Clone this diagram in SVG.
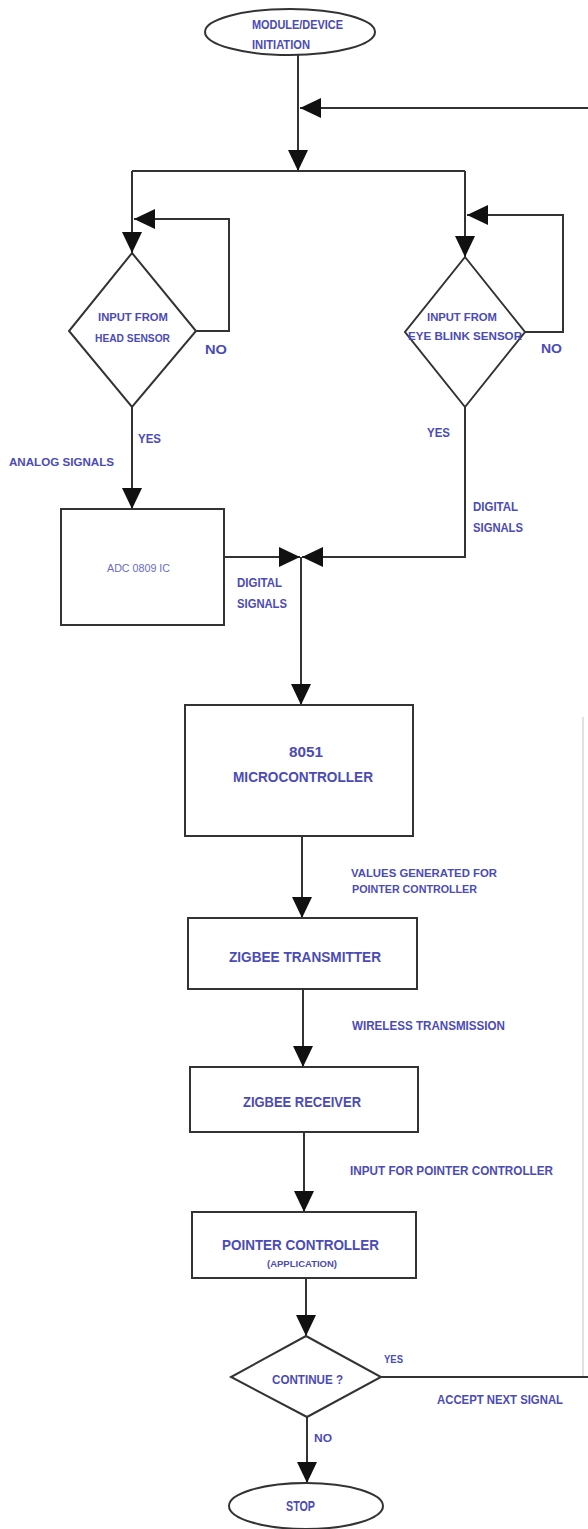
<svg xmlns="http://www.w3.org/2000/svg" width="588" height="1529" viewBox="0 0 588 1529">
<style>
.shape{fill:#fff;stroke:#333;stroke-width:2}
.ln{fill:none;stroke:#333;stroke-width:2}
.faint{fill:none;stroke:#d8d8d8;stroke-width:1.5}
text{font-family:"Liberation Sans Narrow","Liberation Sans",Arial,sans-serif;font-weight:bold;fill:#4b4bb6}
.s10{font-size:10px}.s11{font-size:11px}.s12{font-size:12px}.s13{font-size:13px}.s14{font-size:14px}.s15{font-size:15px}.s9{font-size:9px}
.light{fill:#6a6ac0;font-weight:normal}
</style>
<defs>
<marker id="ah" markerUnits="userSpaceOnUse" markerWidth="21" markerHeight="20" refX="21" refY="10" orient="auto">
<path d="M0,0 L21,10 L0,20 z" fill="#111"/>
</marker>
</defs>
<rect width="588" height="1529" fill="#fff"/>

<g id="connectors">
<line class="ln" x1="298" y1="55" x2="298" y2="171" marker-end="url(#ah)"/>
<line class="ln" x1="590" y1="108" x2="300" y2="108" marker-end="url(#ah)"/>
<polyline class="ln" points="132,171 465,171"/>
<line class="ln" x1="132" y1="171" x2="132" y2="253" marker-end="url(#ah)"/>
<polyline class="ln" points="196,331 229,331 229,219 134,219" marker-end="url(#ah)"/>
<line class="ln" x1="465" y1="171" x2="465" y2="257" marker-end="url(#ah)"/>
<polyline class="ln" points="525,332 563,332 563,215 467,215" marker-end="url(#ah)"/>
<line class="ln" x1="132" y1="407" x2="132" y2="509" marker-end="url(#ah)"/>
<line class="ln" x1="224" y1="557" x2="300" y2="557" marker-end="url(#ah)"/>
<polyline class="ln" points="465,407 465,557 302,557" marker-end="url(#ah)"/>
<line class="ln" x1="301" y1="557" x2="301" y2="705" marker-end="url(#ah)"/>
<line class="ln" x1="302" y1="836" x2="302" y2="918" marker-end="url(#ah)"/>
<line class="ln" x1="303" y1="989" x2="303" y2="1067" marker-end="url(#ah)"/>
<line class="ln" x1="304" y1="1132" x2="304" y2="1212" marker-end="url(#ah)"/>
<line class="ln" x1="306" y1="1278" x2="306" y2="1336" marker-end="url(#ah)"/>
<line class="ln" x1="307" y1="1417" x2="307" y2="1483" marker-end="url(#ah)"/>
<line class="ln" x1="381" y1="1377" x2="590" y2="1377"/>
<line class="faint" x1="583" y1="717" x2="583" y2="1376"/>
<text class="s13" x="205" y="354" textLength="22" lengthAdjust="spacingAndGlyphs">NO</text>
<text class="s13" x="541" y="353" textLength="21" lengthAdjust="spacingAndGlyphs">NO</text>
<text class="s13" x="138" y="443" textLength="23" lengthAdjust="spacingAndGlyphs">YES</text>
<text class="s11" x="9" y="466" textLength="105" lengthAdjust="spacingAndGlyphs">ANALOG SIGNALS</text>
<text class="s13" x="427" y="437" textLength="23" lengthAdjust="spacingAndGlyphs">YES</text>
<text class="s12" x="473" y="511" textLength="45" lengthAdjust="spacingAndGlyphs">DIGITAL</text>
<text class="s12" x="473" y="532" textLength="50" lengthAdjust="spacingAndGlyphs">SIGNALS</text>
<text class="s12" x="237" y="587" textLength="45" lengthAdjust="spacingAndGlyphs">DIGITAL</text>
<text class="s12" x="237" y="608" textLength="50" lengthAdjust="spacingAndGlyphs">SIGNALS</text>
<text class="s11" x="351" y="877" textLength="146" lengthAdjust="spacingAndGlyphs">VALUES GENERATED FOR</text>
<text class="s11" x="352" y="893" textLength="125" lengthAdjust="spacingAndGlyphs">POINTER CONTROLLER</text>
<text class="s12" x="352" y="1030" textLength="153" lengthAdjust="spacingAndGlyphs">WIRELESS TRANSMISSION</text>
<text class="s12" x="350" y="1175" textLength="203" lengthAdjust="spacingAndGlyphs">INPUT FOR POINTER CONTROLLER</text>
<text class="s10" x="384" y="1363" textLength="19" lengthAdjust="spacingAndGlyphs">YES</text>
<text class="s12" x="437" y="1404" textLength="126" lengthAdjust="spacingAndGlyphs">ACCEPT NEXT SIGNAL</text>
<text class="s10" x="314" y="1442" textLength="18" lengthAdjust="spacingAndGlyphs">NO</text>
</g>

<g id="start">
<ellipse class="shape" cx="290" cy="32" rx="85" ry="23"/>
<text class="s12" x="252" y="29" textLength="91" lengthAdjust="spacingAndGlyphs">MODULE/DEVICE</text>
<text class="s12" x="252" y="49" textLength="58" lengthAdjust="spacingAndGlyphs">INITIATION</text>
</g>

<g id="head-sensor">
<polygon class="shape" points="132,253 196,331 132,407 69,331"/>
<text class="s11" x="98" y="321" textLength="70" lengthAdjust="spacingAndGlyphs">INPUT FROM</text>
<text class="s11" x="95" y="342" textLength="75" lengthAdjust="spacingAndGlyphs">HEAD SENSOR</text>
</g>

<g id="eye-sensor">
<polygon class="shape" points="465,257 525,332 465,407 405,332"/>
<text class="s11" x="427" y="321" textLength="70" lengthAdjust="spacingAndGlyphs">INPUT FROM</text>
<text class="s11" x="408" y="340" textLength="114" lengthAdjust="spacingAndGlyphs">EYE BLINK SENSOR</text>
</g>

<g id="adc">
<rect class="shape" x="61" y="509" width="163" height="116"/>
<text class="s10 light" x="107" y="572" textLength="63" lengthAdjust="spacingAndGlyphs">ADC 0809 IC</text>
</g>

<g id="mcu">
<rect class="shape" x="185" y="705" width="228" height="131"/>
<text class="s14" x="289" y="757" textLength="34" lengthAdjust="spacingAndGlyphs">8051</text>
<text class="s14" x="233" y="782" textLength="140" lengthAdjust="spacingAndGlyphs">MICROCONTROLLER</text>
</g>

<g id="zigbee-tx">
<rect class="shape" x="188" y="918" width="229" height="71"/>
<text class="s14" x="229" y="962" textLength="152" lengthAdjust="spacingAndGlyphs">ZIGBEE TRANSMITTER</text>
</g>

<g id="zigbee-rx">
<rect class="shape" x="190" y="1067" width="228" height="65"/>
<text class="s14" x="243" y="1107" textLength="118" lengthAdjust="spacingAndGlyphs">ZIGBEE RECEIVER</text>
</g>

<g id="pointer">
<rect class="shape" x="192" y="1212" width="224" height="66"/>
<text class="s15" x="222" y="1250" textLength="157" lengthAdjust="spacingAndGlyphs">POINTER CONTROLLER</text>
<text class="s9" x="267" y="1267" textLength="70" lengthAdjust="spacingAndGlyphs">(APPLICATION)</text>
</g>

<g id="continue">
<polygon class="shape" points="306,1336 381,1377 307,1417 231,1377"/>
<text class="s13" x="272" y="1384" textLength="71" lengthAdjust="spacingAndGlyphs">CONTINUE ?</text>
</g>

<g id="stop">
<ellipse class="shape" cx="306" cy="1506" rx="77" ry="23"/>
<text class="s14" x="286" y="1511" textLength="29" lengthAdjust="spacingAndGlyphs">STOP</text>
</g>
</svg>
